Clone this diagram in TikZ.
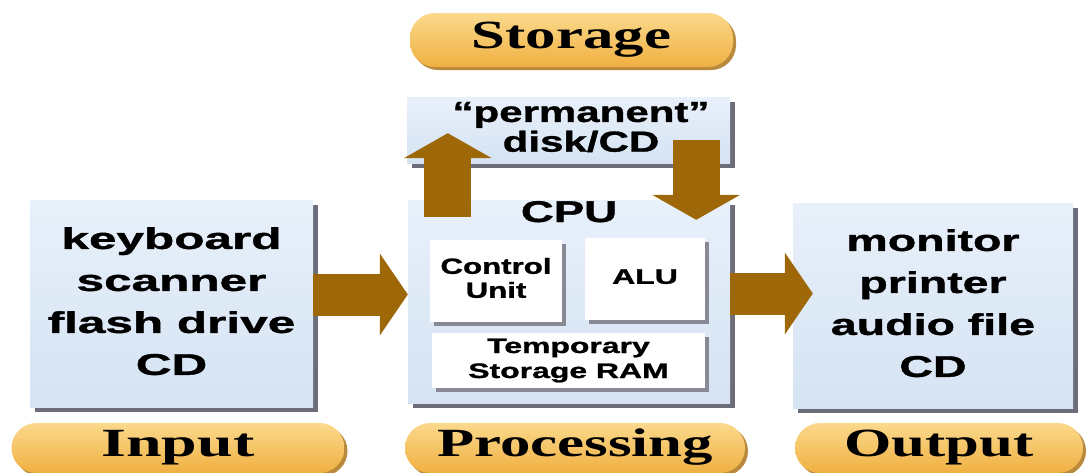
\documentclass[tikz,border=0pt]{standalone}
\usepackage{fontspec}
\setmainfont{Liberation Serif}
\setsansfont{Liberation Sans}[BoldFeatures={FakeBold=1}]
\usepackage{graphicx}
\usetikzlibrary{arrows.meta,shadows,calc,positioning}

\definecolor{boxtop}{HTML}{E8F0FA}
\definecolor{boxbot}{HTML}{D5E3F3}
\definecolor{boxshade}{HTML}{6C6C7A}
\definecolor{arrowbrown}{HTML}{9E6808}
\definecolor{pilltop}{HTML}{FBD98C}
\definecolor{pillmid}{HTML}{F7C45C}
\definecolor{pillbot}{HTML}{F0B041}
\definecolor{pillrim}{HTML}{B98A3E}

\newcommand{\wide}[2][1.52]{\scalebox{#1}[1]{\begin{tabular}{@{}c@{}}#2\end{tabular}}}

\begin{document}
\begin{tikzpicture}[x=1pt,y=-1pt,
    blue box/.style={rectangle,inner sep=0pt,top color=boxtop,bottom color=boxbot,
      drop shadow={shadow xshift=5pt,shadow yshift=-5pt,fill=boxshade,opacity=1},
      font=\sffamily\bfseries\fontsize{30}{42}\selectfont},
    white box/.style={rectangle,inner sep=0pt,fill=white,
      drop shadow={shadow xshift=4pt,shadow yshift=-4pt,fill=boxshade!80,opacity=1},
      font=\sffamily\bfseries\fontsize{22}{24}\selectfont},
    pill/.style={rectangle,rounded corners=25pt,inner sep=0pt,
      top color=pilltop,middle color=pillmid,bottom color=pillbot,
      drop shadow={shadow xshift=3pt,shadow yshift=-3pt,fill=pillrim,opacity=1},
      font=\rmfamily\bfseries\fontsize{40}{40}\selectfont},
    fat arrow/.style={draw=arrowbrown,line width=42pt,
      -{Triangle[width=82pt,length=28pt,line width=0pt]}},
    fat arrow v/.style={draw=arrowbrown,line width=47pt,
      -{Triangle[width=88pt,length=25pt,line width=0pt]}}]

  \useasboundingbox (0,0) rectangle (1086,472);

  \node[blue box,minimum width=283pt,minimum height=207pt] (inp) at (171.5,303.5)
    {\wide[1.65]{keyboard\\scanner\\flash drive\\CD}};
  \node[blue box,minimum width=280pt,minimum height=205pt] (outp) at (933,305.5)
    {\wide[1.55]{monitor\\printer\\audio file\\CD}};
  \node[blue box,minimum width=322pt,minimum height=203pt] (cpu) at (569,301.5) {};
  \node[blue box,minimum width=323pt,minimum height=66pt,
    font=\sffamily\bfseries\fontsize{29}{29}\selectfont] (store) at (568.5,130) {};
  \node[font=\sffamily\bfseries\fontsize{29}{29}\selectfont] (storetxt) at (581,131)
    {\wide[1.45]{``permanent''\\disk/CD}};

  \node[font=\sffamily\bfseries\fontsize{30}{30}\selectfont] (cpulbl) at (569,216) {\wide{CPU}};
  \node[white box,minimum width=132pt,minimum height=82pt] (ctrl) at (496,281) {\wide[1.42]{Control\\Unit}};
  \node[white box,minimum width=120pt,minimum height=82pt,
    font=\sffamily\bfseries\fontsize{21}{24}\selectfont] (alu) at (645,279) {\wide{ALU}};
  \node[white box,minimum width=273pt,minimum height=55pt,
    font=\sffamily\bfseries\fontsize{21}{25}\selectfont] (ram) at (568.5,360.5)
    {\wide{Temporary\\Storage RAM}};

  \node[pill,minimum width=323pt,minimum height=54pt] (storelbl) at (571.5,40) {\wide{Storage}};
  \node[pill,minimum width=333pt,minimum height=50pt] (inlbl) at (178,448) {\wide[1.6]{Input}};
  \node[pill,minimum width=340pt,minimum height=50pt] (proclbl) at (575,448) {\wide{Processing}};
  \node[pill,minimum width=288pt,minimum height=50pt] (outlbl) at (939,448) {\wide{Output}};

  \draw[fat arrow] ($(inp.east)+(0,-9)$) -- ($(inp.east -| cpu.west)+(0,-9)$);
  \draw[fat arrow] ($(cpu.east)+(0,-8)$) -- ($(cpu.east -| outp.west)+(20,-8)$);
  \draw[fat arrow v] ($(cpu.north west)+(40,17)$) -- ($(store.south west)+(41,-30)$);
  \draw[fat arrow v] ($(store.south east)+(-34,-23)$) -- ($(cpu.north east)+(-34,20)$);

\end{tikzpicture}
\end{document}
